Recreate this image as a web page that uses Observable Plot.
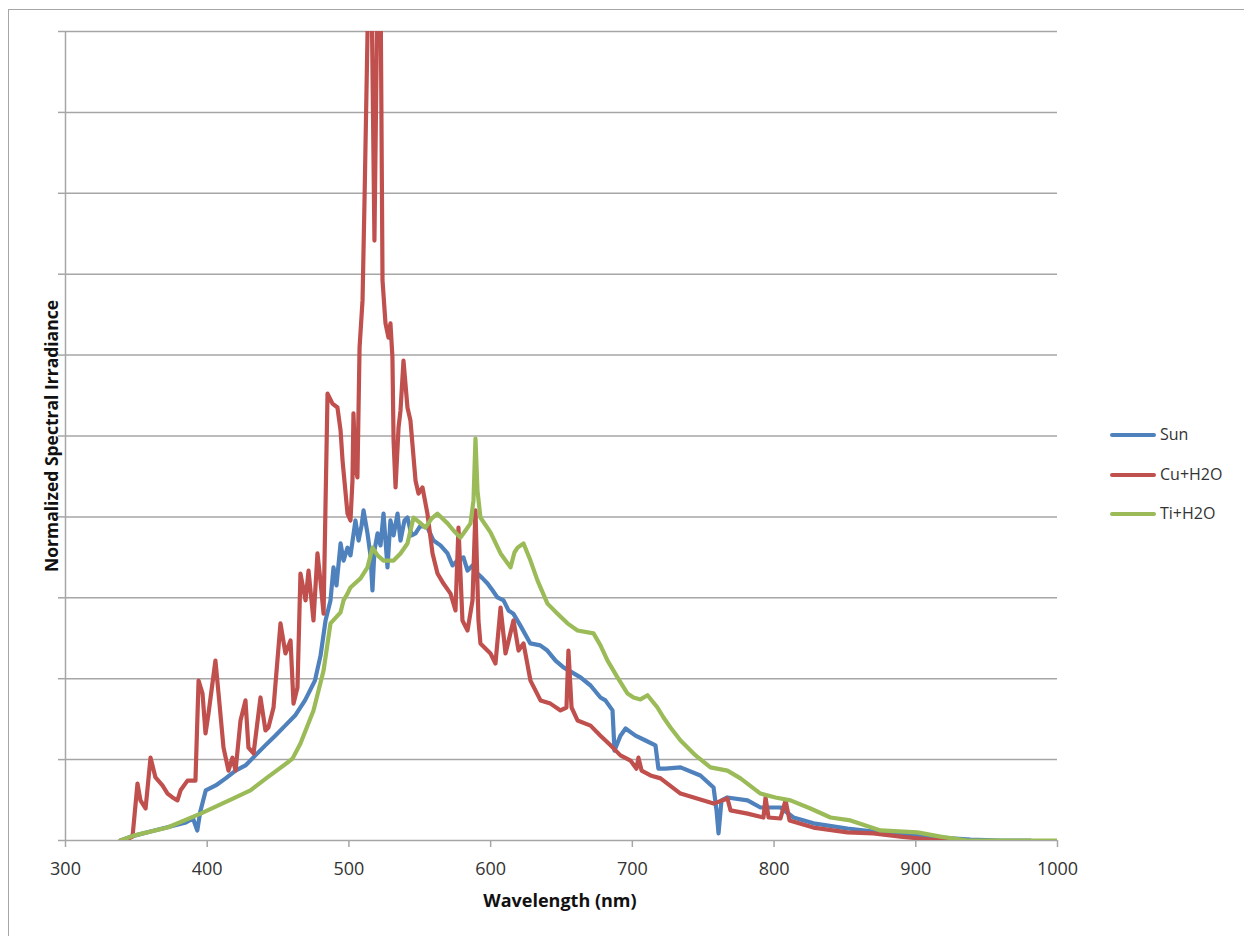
<!DOCTYPE html>
<html>
<head>
<meta charset="utf-8">
<script src="https://cdn.jsdelivr.net/npm/d3@7"></script>
<script src="https://cdn.jsdelivr.net/npm/@observablehq/plot@0.6"></script>
<style>
  html, body { margin: 0; padding: 0; background: #fff; }
  #page { position: relative; width: 1244px; height: 936px; overflow: hidden; font-family: "Open Sans", sans-serif; color: #333; }
  #frame { position: absolute; left: 8px; top: 9px; width: 1400px; height: 1000px; border-left: 1.5px solid #a6a6a6; border-top: 1.5px solid #a6a6a6; }
  #chart { position: absolute; left: 0; top: 0; }
  .ylabel { position: absolute; left: 51px; top: 436px; transform: translate(-50%, -50%) rotate(-90deg); white-space: nowrap; font-weight: bold; font-size: 17.5px; color: #111; }
  .xlabel { position: absolute; left: 560px; top: 900px; transform: translate(-50%, -50%); white-space: nowrap; font-weight: bold; font-size: 18px; color: #111; }
  .legend { position: absolute; left: 1110px; top: 0; }
  .item { position: absolute; left: 0; white-space: nowrap; font-size: 16px; color: #333; }
  .item .swatch { position: absolute; left: 0; top: -2px; width: 46px; height: 4px; border-radius: 2px; }
  .item span.lab { position: absolute; left: 50px; top: -12px; }
</style>
</head>
<body>
<div id="page">
  <div id="frame"></div>
  <div id="chart"></div>
  <div class="ylabel">Normalized Spectral Irradiance</div>
  <div class="xlabel">Wavelength (nm)</div>
  <div class="legend" id="legend"></div>
</div>
<script>
// Axis ticks
const xTicks = [300, 400, 500, 600, 700, 800, 900, 1000];
const yTicks = [0, 0.25, 0.5, 0.75, 1, 1.25, 1.5, 1.75, 2, 2.25, 2.5];

// Series names and colours
const seriesNames = ["Sun", "Cu+H2O", "Ti+H2O"];
const seriesColors = ["#4f81bd", "#c0504d", "#9bbb59"];

// Sun spectrum (wavelength in nm, normalized irradiance)
const sunNm = [339, 346, 360, 374, 385, 390, 393, 395, 399, 406,
  413, 420, 427, 434, 441, 448, 455, 462, 469, 476,
  480, 483.5,
  487, 489.1, 491.2, 494.1, 496.2, 499, 501.1, 504.6, 506.8, 508.9,
  510.3, 513.1, 515.2, 516.6, 518, 520.2, 522.3, 524.4, 527.2, 529.3,
  531.5, 534.3, 536.4, 539.2, 541.3, 544.2, 547, 550.5, 555.4, 559.7,
  564.6, 569.6, 573.1, 576.6, 580.8, 583.7, 587.2, 590.7, 594.3, 597.8,
  601.3, 604.8, 609.1, 612.6,
  616, 621, 628, 635, 640, 645.8,
  651.4, 663.4, 670.5, 677.5, 681, 686, 687.4, 691.6, 695.2, 702.2,
  709.3, 716.3, 718.4, 723.4, 734, 748, 757.3, 759.4, 760.8, 762.9,
  767, 781.3, 790.4, 804.5, 813.7, 827.8, 851.8, 875, 889, 917.4,
  938.6, 960, 981];
const sunVal = [0, 0.012, 0.028, 0.043, 0.056, 0.068, 0.031, 0.087, 0.155, 0.170,
  0.192, 0.216, 0.232, 0.263, 0.294, 0.324, 0.355, 0.386, 0.433, 0.494,
  0.572, 0.680,
  0.742, 0.844, 0.788, 0.918, 0.865, 0.905, 0.881, 0.989, 0.927, 0.973,
  1.020, 0.949, 0.881, 0.773, 0.896, 0.949, 0.912, 1.010, 0.844, 0.989,
  0.943, 1.010, 0.927, 0.989, 0.998, 0.943, 0.949, 0.973, 0.967, 0.927,
  0.912, 0.887, 0.850, 0.865, 0.875, 0.834, 0.850, 0.825, 0.810, 0.794,
  0.773, 0.751, 0.742, 0.711,
  0.701, 0.664, 0.609, 0.603, 0.587, 0.556,
  0.535, 0.504, 0.479, 0.442, 0.433, 0.402, 0.278, 0.324, 0.346, 0.324,
  0.309, 0.294, 0.222, 0.222, 0.226, 0.201, 0.164, 0.093, 0.022, 0.124,
  0.133, 0.124, 0.102, 0.102, 0.071, 0.053, 0.037, 0.025, 0.019, 0.009,
  0.003, 0, 0];

// Copper electrode in water
const cuNm = [338.8, 344.5, 347.3, 350.8, 352.9, 356.5, 360, 363.5, 368.4, 372,
  375.5, 379, 381.2, 386.1, 391.7, 393.9, 396.7, 398.8, 400.9, 405.8,
  408, 411.5, 415, 417.8, 420, 423.5, 427, 429.1, 432.7, 437.6,
  441.1, 443.2, 446.8, 451.7, 455.2, 458.8, 460.9, 463.7, 465.8, 469.4,
  471.5, 475, 477.8, 479.9, 482.1, 484.9, 488.4, 491.9, 494.1, 495.5,
  499, 501.1, 502.5, 503.2, 504.6, 506, 507.5, 509.6, 511, 513.8,
  515.9, 518, 520.2, 522.3, 523.7, 525.8, 527.9, 529.3, 530.7, 531.5,
  532.9, 535, 536.4, 538.5, 541.3, 543.4, 547, 549.1, 551.9, 555.4,
  559, 562.5, 566.7, 571.7, 575.2, 577.3, 580.1, 583.7, 587.2, 589.3,
  591.4, 592.8, 599.9, 603.4, 607, 610.5, 616.1, 619.7, 623.2, 628.1,
  635.2, 642.2, 649.3, 653.5, 654.9, 657.1, 661.3, 670.5, 677.5, 684.6,
  691.6, 698.7, 702.9, 704.3, 706.5, 712.8, 719.9, 734, 757.3, 767.1,
  769.3, 781.3, 792.5, 794, 796.1, 804.5, 808.1, 810.9, 827.8, 851.8,
  870.2, 889.2, 910.4, 924.5];
const cuVal = [0, 0.006, 0.012, 0.176, 0.124, 0.099, 0.256, 0.195, 0.170, 0.145,
  0.133, 0.124, 0.155, 0.185, 0.185, 0.494, 0.454, 0.331, 0.392, 0.556,
  0.454, 0.287, 0.216, 0.256, 0.216, 0.371, 0.433, 0.287, 0.269, 0.442,
  0.340, 0.349, 0.411, 0.671, 0.578, 0.618, 0.423, 0.473, 0.825, 0.742,
  0.834, 0.680, 0.887, 0.803, 0.701, 1.381, 1.350, 1.338, 1.267, 1.174,
  1.010, 0.989, 1.112, 1.320, 1.153, 1.122, 1.523, 1.669, 1.978, 2.66,
  2.66, 1.854, 2.66, 2.66, 1.731, 1.598, 1.554, 1.598, 1.493, 1.236,
  1.091, 1.276, 1.329, 1.483, 1.338, 1.298, 1.112, 1.072, 1.091, 1.010,
  0.887, 0.825, 0.794, 0.763, 0.711, 0.967, 0.680, 0.649, 0.742, 1.020,
  0.680, 0.609, 0.578, 0.547, 0.720, 0.578, 0.680, 0.587, 0.609, 0.494,
  0.433, 0.423, 0.402, 0.411, 0.587, 0.411, 0.371, 0.355, 0.324, 0.294,
  0.263, 0.247, 0.222, 0.256, 0.216, 0.201, 0.192, 0.145, 0.114, 0.130,
  0.093, 0.083, 0.071, 0.133, 0.071, 0.068, 0.124, 0.062, 0.040, 0.025,
  0.022, 0.012, 0.003, 0];

// Titanium electrode in water
const tiNm = [338.8, 348, 372, 395.3, 418.5, 430.5, 442.5, 456.7, 460.2, 465.8,
  475, 482.1, 487, 494.1, 496.2, 499, 501.1, 508.2, 513.1, 516.6,
  520.2, 524.4, 531.5, 536.4, 541.3, 545.6, 549.8, 554, 558.3, 562.5,
  566, 569.6, 573.8, 578.7, 582.3, 585.8, 587.9, 589.3, 590.7, 592.8,
  599.9, 607, 614, 616.8, 619, 623.2, 628.1, 633.1, 640.1, 647.2,
  654.2, 661.3, 672.6, 677.5, 682.5, 689.5, 696.6, 700.8, 705.7, 710.7,
  717.7, 722, 726.9, 734, 744.6, 755.1, 767.1, 776.3, 790.4, 801,
  811.6, 825.7, 839.8, 853.9, 875.1, 901.2, 917.4, 936.5, 1000];
const tiVal = [0, 0.015, 0.040, 0.083, 0.130, 0.155, 0.195, 0.241, 0.253, 0.300,
  0.402, 0.525, 0.671, 0.705, 0.742, 0.763, 0.782, 0.810, 0.844, 0.905,
  0.881, 0.865, 0.865, 0.887, 0.918, 0.998, 0.983, 0.967, 0.995, 1.010,
  0.995, 0.980, 0.958, 0.936, 0.958, 0.980, 1.051, 1.242, 1.082, 0.998,
  0.952, 0.887, 0.844, 0.890, 0.905, 0.918, 0.865, 0.803, 0.732, 0.701,
  0.671, 0.649, 0.640, 0.603, 0.556, 0.504, 0.454, 0.442, 0.436, 0.449,
  0.411, 0.380, 0.349, 0.309, 0.263, 0.226, 0.216, 0.192, 0.145, 0.133,
  0.124, 0.099, 0.071, 0.062, 0.031, 0.025, 0.012, 0, 0];

const toRows = (nm, val) => nm.map((w, i) => ({w, v: val[i]}));
const series = [toRows(sunNm, sunVal), toRows(cuNm, cuVal), toRows(tiNm, tiVal)];

const gridColor = "#a6a6a6";

const chart = Plot.plot({
  width: 1244,
  height: 936,
  marginTop: 31,
  marginBottom: 96,
  marginLeft: 65,
  marginRight: 187,
  style: {fontFamily: "'Open Sans', sans-serif", fontSize: "18px", color: "#333", background: "transparent"},
  x: {domain: [300, 1000]},
  y: {domain: [0, 2.5]},
  marks: [
    Plot.gridY(yTicks, {stroke: gridColor, strokeOpacity: 1, strokeWidth: 1.5}),
    Plot.axisY(yTicks, {tickSize: 7, tickFormat: () => "", stroke: gridColor, strokeWidth: 1.5, label: null}),
    Plot.axisX(xTicks, {tickSize: 7, tickPadding: 15, tickFormat: (d) => String(d), stroke: gridColor, strokeWidth: 1.5, fill: "#333", label: null}),
    Plot.ruleX([300], {stroke: gridColor, strokeWidth: 1.5}),
    ...series.map((rows, i) => Plot.line(rows, {
      x: "w", y: "v",
      stroke: seriesColors[i],
      strokeWidth: 4.2,
      strokeLinejoin: "round",
      strokeLinecap: "round",
      clip: true
    }))
  ]
});
document.getElementById("chart").appendChild(chart);

// Legend to the right of the plot
const legendY = [435, 475, 514];
const legend = document.getElementById("legend");
seriesNames.forEach((name, i) => {
  const item = document.createElement("div");
  item.className = "item";
  item.style.top = legendY[i] + "px";
  item.innerHTML = `<div class="swatch" style="background:${seriesColors[i]}"></div><span class="lab">${name}</span>`;
  legend.appendChild(item);
});
</script>
</body>
</html>
